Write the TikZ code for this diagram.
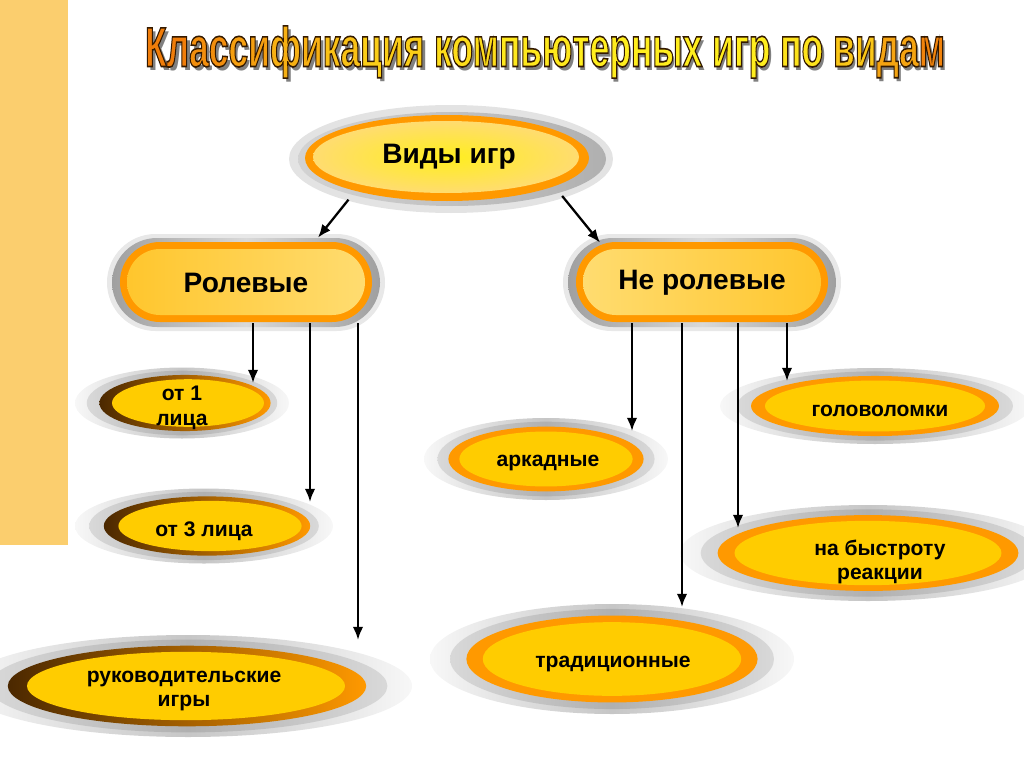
\documentclass[tikz,border=0pt]{standalone}
\usepackage{fontspec}
\setmainfont{Liberation Sans}
\usetikzlibrary{arrows.meta,positioning,shadings,shapes.geometric}
\definecolor{barorange}{RGB}{251,206,110}
\definecolor{ringorange}{RGB}{255,153,0}
\definecolor{ringbrown}{RGB}{75,40,0}
\definecolor{coreyellow}{RGB}{255,204,0}
\definecolor{boxdeep}{RGB}{255,198,45}
\definecolor{boxlight}{RGB}{255,220,112}
\definecolor{titleorange}{RGB}{240,125,10}
\definecolor{titleyellow}{RGB}{255,238,30}

% dark outline for the title letters
\newcommand{\outlineon}{\special{pdf:literal direct 0.2 0.1 0 RG 0.9 w 2 Tr}}
\newcommand{\outlineoff}{\special{pdf:literal direct 0 Tr}}
\newcommand{\tpart}[2]{{\color{titleorange!#1!titleyellow}\outlineon#2}}
\newcommand{\titlebody}{\tpart{100}{Кл}\tpart{85}{ас}\tpart{70}{си}\tpart{55}{фи}\tpart{40}{ка}\tpart{28}{ция }%
  \tpart{15}{ком}\tpart{5}{пью}\tpart{0}{терных }\tpart{0}{игр }\tpart{10}{по }\tpart{35}{ви}\tpart{65}{да}\tpart{95}{м}}
\newcommand{\titlefont}{\fontsize{32}{36}\selectfont\bfseries}
% centre, x radius, y radius, ring style, shift of ring
\newcommand{\gameoval}[5]{%
  \shade[left color=gray!6, right color=gray!6, middle color=gray!45] #1 ellipse ({#2} and {#3});
  \shade[left color=gray!30, right color=gray!30, middle color=gray!62] #1 ellipse ({0.89*#2} and {0.91*#3});
  \path[#4, shift={(#5,0)}] #1 ellipse ({0.8*#2} and {0.79*#3});
  \fill[coreyellow, shift={(2*#5,0)}] #1 ellipse ({0.71*#2} and {0.67*#3});
}

\begin{document}
\begin{tikzpicture}[x=0.02cm, y=-0.02cm,
    arr/.style={-{Latex[length=7.5pt,width=6pt]}, line width=1.3pt, black},
    headline/.style={inner sep=0pt},
    kindtext/.style={shape=ellipse, inner sep=0pt, minimum width=6.48cm, minimum height=2.16cm,
                     font=\fontsize{16}{19}\selectfont\bfseries},
    grouptext/.style={rectangle, inner sep=0pt, minimum width=5.04cm, minimum height=1.6cm,
                      font=\fontsize{16}{19}\selectfont\bfseries},
    ovaltext/.style={align=center, inner sep=0pt, yshift=-0.08cm, font=\fontsize{12}{14}\selectfont\bfseries},
    brownring/.style={left color=ringbrown, right color=ringorange},
    orangering/.style={fill=ringorange}
]
    \useasboundingbox (0,0) rectangle (1024,767);
    \fill[barorange] (0,0) rectangle (68,545);

    % title
    \node[headline, text=black!50] at (548,56) {\scalebox{0.63}[1]{\titlefont Классификация компьютерных игр по видам}};
    \node[headline] (title) at (545,52) {\scalebox{0.63}[1]{\titlefont\titlebody\outlineoff}};

    % top oval
    \fill[gray!22] (451,159) ellipse (162 and 54);
    \shade[left color=gray!35, right color=gray!62] (452,159) ellipse (154 and 47);
    \fill[ringorange] (447,158) ellipse (142 and 43);
    \shade[inner color=titleyellow, outer color=boxlight] (446,157) ellipse (133 and 36);
    \node[kindtext] (kinds) at (449,157) {Виды игр};

    % two groups
    \foreach \cx/\lbl/\nm/\lc/\rc in {246/Ролевые/roles/boxdeep/boxlight, 702/Не ролевые/nonroles/boxlight/boxdeep}{
        \fill[gray!18, rounded corners=0.97cm] (\cx-139,234) rectangle (\cx+139,331);
        \shade[left color=gray!75, right color=gray!75, middle color=gray!30, rounded corners=0.9cm]
            (\cx-134,238) rectangle (\cx+134,327);
        \fill[ringorange, rounded corners=0.8cm] (\cx-126,242) rectangle (\cx+126,322);
        \shade[left color=\lc, right color=\rc, rounded corners=0.66cm] (\cx-119,249) rectangle (\cx+119,315);
        \node[grouptext] (\nm) at (\cx,283) {\lbl};
    }

    % kinds
    \gameoval{(182,403)}{107}{35.5}{brownring}{3}
    \node[ovaltext] (first) at (182,404) {от 1\\лица};
    \gameoval{(204,526)}{129}{37.5}{brownring}{3}
    \node[ovaltext] (third) at (204,527) {от 3 лица};
    \gameoval{(188,686)}{224}{51}{brownring}{-1}
    \node[ovaltext] (leader) at (184,687) {руководительские\\игры};
    \gameoval{(546,459)}{122}{41}{orangering}{0}
    \node[ovaltext] (arcade) at (548,459) {аркадные};
    \gameoval{(875,406)}{155}{38}{orangering}{0}
    \node[ovaltext] (puzzle) at (880,407) {головоломки};
    \gameoval{(868,553)}{188}{48}{orangering}{0}
    \node[ovaltext] (reaction) at (880,558) {на быстроту\\реакции};
    \gameoval{(612,659)}{182}{55}{orangering}{0}
    \node[ovaltext] (classic) at (613,660) {традиционные};

    % arrows
    \draw[arr] (kinds.203) -- ([xshift=1.44cm, yshift=0.1cm]roles.north);
    \draw[arr] (kinds.341) -- ([xshift=-2.04cm]nonroles.north);

    \coordinate (firsttip) at (253,383);
    \coordinate (thirdtip) at (310,502);
    \coordinate (leadertip) at (358,640);
    \coordinate (arcadetip) at (632,431);
    \coordinate (classictip) at (682,607);
    \coordinate (reactiontip) at (738,528);
    \coordinate (puzzletip) at (787,381);
    \foreach \t in {firsttip, thirdtip, leadertip}
        \draw[arr] (roles.south -| \t) -- (\t);
    \foreach \t in {arcadetip, classictip, reactiontip, puzzletip}
        \draw[arr] (nonroles.south -| \t) -- (\t);
\end{tikzpicture}
\end{document}
